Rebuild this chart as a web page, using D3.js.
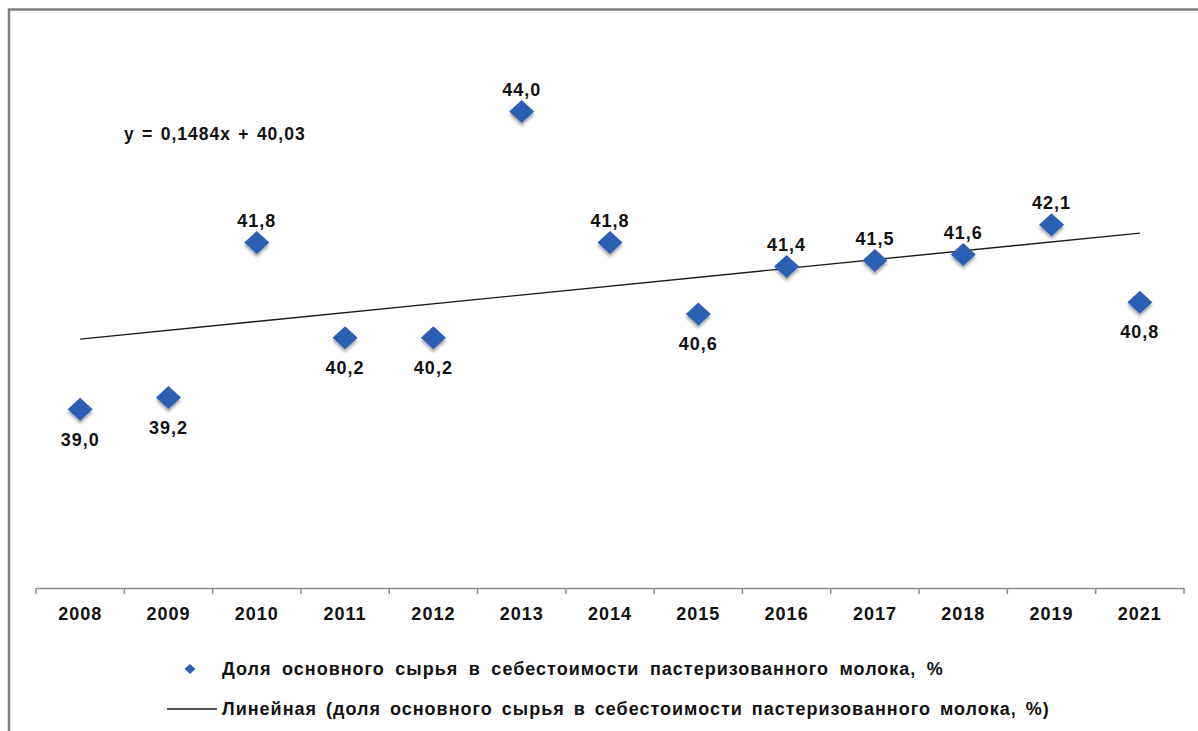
<!DOCTYPE html>
<html>
<head>
<meta charset="utf-8">
<script src="https://cdn.jsdelivr.net/npm/d3@7"></script>
<style>
  html, body { margin: 0; padding: 0; background: #fff; }
  svg { display: block; }
  text { font-family: "Liberation Sans", Arial, sans-serif; fill: #111; letter-spacing: 1px; }
</style>
</head>
<body>
<svg id="chart" width="1198" height="731"></svg>
<script>
// Years on the category axis
const years = ["2008", "2009", "2010", "2011", "2012", "2013", "2014", "2015", "2016", "2017", "2018", "2019", "2021"];
// Share of raw milk in the cost of pasteurized milk, %
const shares = [39.0, 39.2, 41.8, 40.2, 40.2, 44.0, 41.8, 40.6, 41.4, 41.5, 41.6, 42.1, 40.8];
// Where each value label sits relative to its marker
const labelSide = ["below", "below", "above", "below", "below", "above", "above", "below", "above", "above", "above", "above", "below"];
// Linear trend y = slope * n + intercept, n = 1..13
const trendSlope = 0.1484;
const trendIntercept = 40.03;
const trendLabel = "y = 0,1484x + 40,03";
const legendItems = [
  "Доля основного сырья в себестоимости пастеризованного молока, %",
  "Линейная (доля основного сырья в себестоимости пастеризованного молока, %)"
];

const fmt = v => d3.format(".1f")(v).replace(".", ",");

const svg = d3.select("#chart");

// Drop shadow under the diamonds
const defs = svg.append("defs");
const f = defs.append("filter").attr("id", "shadow")
  .attr("x", "-50%").attr("y", "-50%").attr("width", "200%").attr("height", "200%");
f.append("feDropShadow").attr("dx", 0).attr("dy", 3).attr("stdDeviation", 1.8)
  .attr("flood-color", "#000").attr("flood-opacity", 0.35);

// Outer frame (left and top edges visible)
svg.append("path")
  .attr("d", "M9,731 V9.5 H1198")
  .attr("fill", "none").attr("stroke", "#7f7f7f").attr("stroke-width", 2.5);

const x = d3.scaleBand().domain(years).range([36, 1184]).padding(0);
const y = d3.scaleLinear().domain([36, 45]).range([588, 52]);
const cx = d => x(d) + x.bandwidth() / 2;

// Category axis
const axisY = y(36);
const gx = svg.append("g").attr("transform", `translate(0,${axisY})`)
  .call(d3.axisBottom(x).tickSize(0).tickSizeOuter(0));
gx.select(".domain").attr("stroke", "#8c8c8c").attr("stroke-width", 1.5);
gx.selectAll("text")
  .attr("y", 26).attr("dy", "0.35em")
  .style("font-size", "18px").style("font-weight", "bold")
  .style("font-family", "'Liberation Sans', Arial, sans-serif")
  .attr("fill", "#111");

// Tick marks between categories
const boundaries = d3.range(years.length + 1).map(i => x.range()[0] + i * x.step());
svg.append("g").selectAll("line").data(boundaries).join("line")
  .attr("x1", d => d).attr("x2", d => d)
  .attr("y1", axisY).attr("y2", axisY + 6)
  .attr("stroke", "#8c8c8c").attr("stroke-width", 1.5);

// Trend line
const trendAt = n => trendSlope * n + trendIntercept;
svg.append("line")
  .attr("x1", cx(years[0])).attr("y1", y(trendAt(1)))
  .attr("x2", cx(years[years.length - 1])).attr("y2", y(trendAt(years.length)))
  .attr("stroke", "#1a1a1a").attr("stroke-width", 1.4);

// Diamonds
const diamond = (w, h) => `M0,${-h} L${w},0 L0,${h} L${-w},0 Z`;
svg.append("g").selectAll("path").data(years).join("path")
  .attr("transform", (d, i) => `translate(${cx(d)},${y(shares[i])})`)
  .attr("d", diamond(12.5, 11.5))
  .attr("fill", "#2c5fb2")
  .attr("filter", "url(#shadow)");

// Value labels
svg.append("g").selectAll("text").data(years).join("text")
  .attr("x", d => cx(d))
  .attr("y", (d, i) => y(shares[i]) + (labelSide[i] === "above" ? -22 : 30))
  .attr("dy", "0.35em")
  .attr("text-anchor", "middle")
  .style("font-size", "18px").style("font-weight", "bold")
  .text((d, i) => fmt(shares[i]));

// Trend equation
svg.append("text")
  .attr("x", 124).attr("y", 134).attr("dy", "0.35em")
  .style("font-size", "17.5px").style("font-weight", "bold")
  .attr("word-spacing", "1.5px")
  .text(trendLabel);

// Legend
const lg = svg.append("g");
lg.append("path")
  .attr("transform", "translate(190,669)")
  .attr("d", diamond(5.5, 5))
  .attr("fill", "#2c5fb2");
lg.append("text")
  .attr("x", 222).attr("y", 669).attr("dy", "0.35em")
  .style("font-size", "18px").style("font-weight", "bold")
  .attr("word-spacing", "4.5px")
  .text(legendItems[0]);
lg.append("line")
  .attr("x1", 167).attr("x2", 217).attr("y1", 709).attr("y2", 709)
  .attr("stroke", "#1a1a1a").attr("stroke-width", 1.4);
lg.append("text")
  .attr("x", 222).attr("y", 709).attr("dy", "0.35em")
  .style("font-size", "18px").style("font-weight", "bold")
  .attr("word-spacing", "3px")
  .text(legendItems[1]);
</script>
</body>
</html>
